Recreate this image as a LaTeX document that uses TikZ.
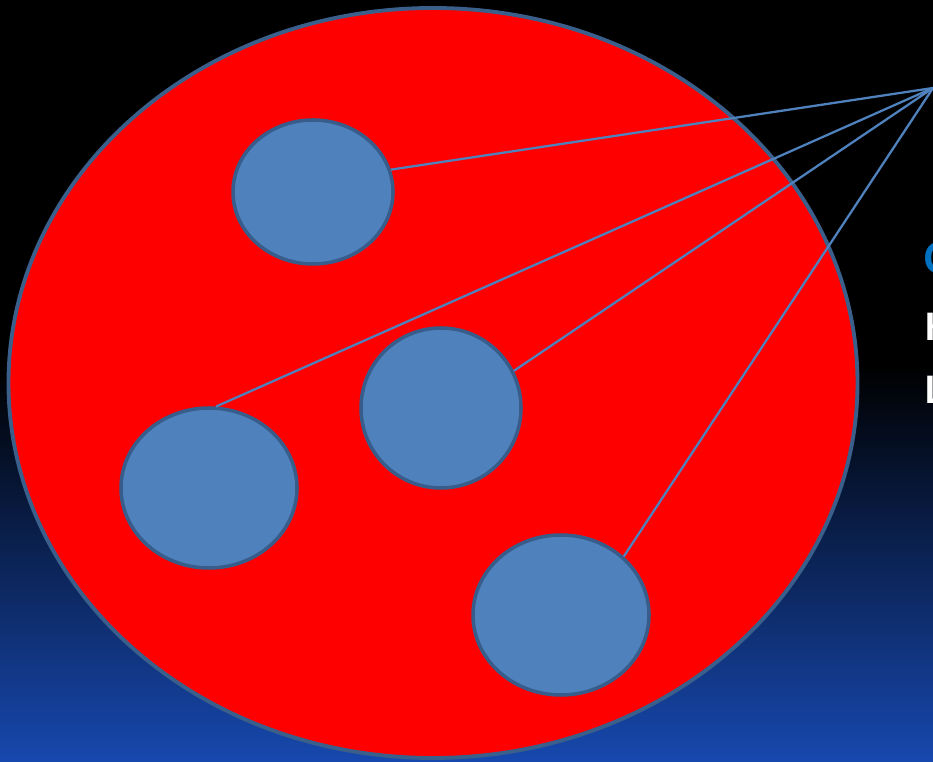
\documentclass[tikz,border=0pt]{standalone}
\usepackage{fontspec}
\setmainfont{Carlito}
\usepackage{tikz}
\usetikzlibrary{shapes.geometric}
\usepackage{xcolor}
\definecolor{cellRed}{HTML}{FF0000}
\definecolor{cellEdge}{HTML}{3A5F8B}
\definecolor{orgFill}{HTML}{4F81BD}
\definecolor{orgEdge}{HTML}{385D8A}
\definecolor{bgBlue}{HTML}{1748AE}
\definecolor{lblBlue}{HTML}{0070C0}

\begin{document}
\begin{tikzpicture}[
      font=\rmfamily,
      cellbody/.style={ellipse, draw=cellEdge, line width=2.2pt, fill=cellRed,
                  minimum width=16.98cm, minimum height=15.0cm, inner sep=0pt},
      organelle/.style={ellipse, draw=orgEdge, line width=2.0pt, fill=orgFill,
                  inner sep=0pt},
      pointer/.style={draw=orgFill, line width=1.3pt},
      lbl/.style={anchor=west, inner sep=0pt, font=\bfseries},
    ]

    % ---------- fondo ----------
    \clip (0,0) rectangle (18.66,15.22);
    \fill[black] (0,0) rectangle (18.66,15.22);
    \shade[top color=black, bottom color=bgBlue] (0,0) rectangle (18.66,7.9);

    % ---------- celula ----------
    \node[cellbody] (cell) at (8.66,7.56) {};

    % ---------- organelos ----------
    \node[organelle, minimum width=3.2cm,  minimum height=2.88cm] (o1) at (6.26,11.38) {};
    \node[organelle, minimum width=3.2cm,  minimum height=3.2cm]  (o2) at (8.82,7.06)  {};
    \node[organelle, minimum width=3.52cm, minimum height=3.2cm]  (o3) at (4.18,5.46)  {};
    \node[organelle, minimum width=3.52cm, minimum height=3.2cm]  (o4) at (11.22,2.92) {};

    % ---------- lineas al rotulo ----------
    \coordinate (apex) at (18.66,13.46);
    \draw[pointer] (apex) -- (o1.16);
    \draw[pointer] (apex) -- (o3.85);
    \draw[pointer] (apex) -- (o2.27);
    \draw[pointer] (apex) -- (o4.43);

    % ---------- rotulos (cortados en el borde) ----------
    \node[lbl, text=lblBlue] (tC) at (18.48,10.06) {\fontsize{27}{32}\selectfont C};
    \node[lbl, text=white]   (tH) at (18.5,8.68)   {\fontsize{24}{29}\selectfont H};
    \node[lbl, text=white]   (tL) at (18.5,7.42)   {\fontsize{24}{29}\selectfont L};

  \end{tikzpicture}
\end{document}
